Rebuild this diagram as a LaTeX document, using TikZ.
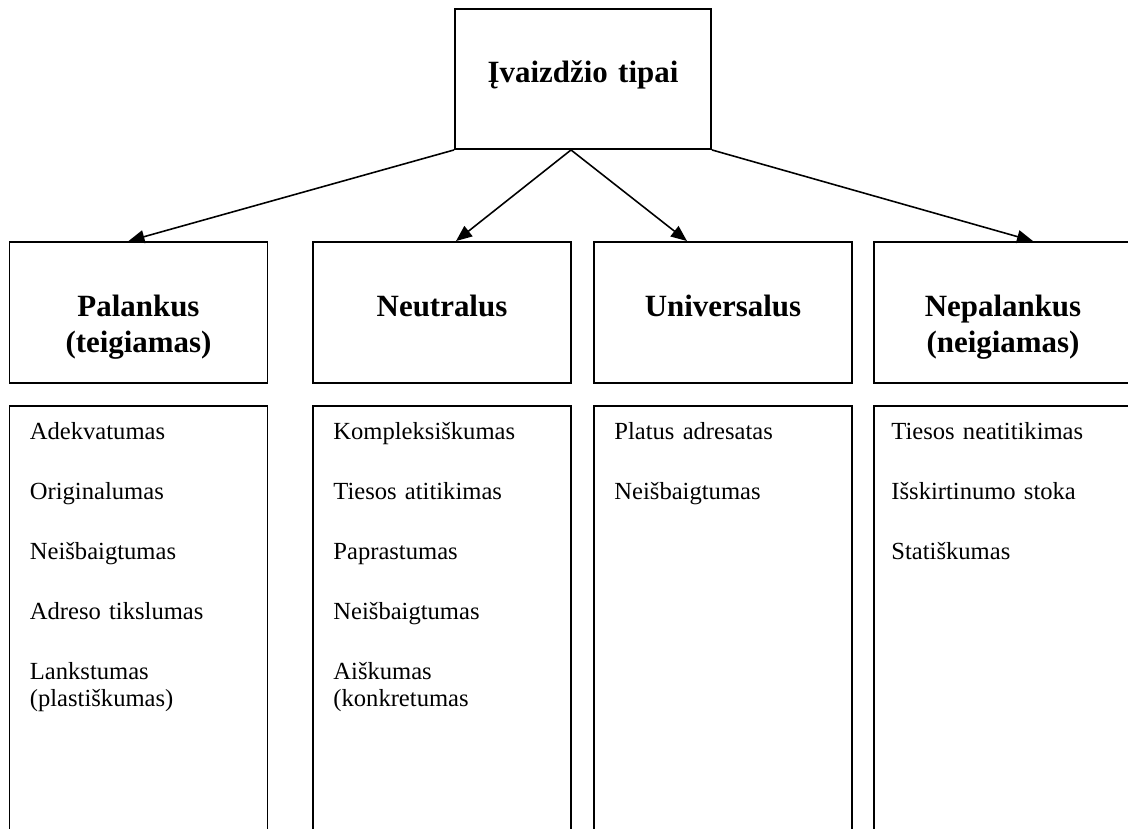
\documentclass[tikz,border=0pt]{standalone}
\usepackage{fontspec}
\setmainfont{Liberation Serif}
\usetikzlibrary{arrows.meta, positioning, calc}

\begin{document}
\begin{tikzpicture}[
  x=0.02cm, y=-0.02cm,
  topbox/.style={rectangle, draw=black, line width=1.1pt, inner sep=0pt,
    minimum width=5.12cm, minimum height=2.8cm},
  typebox/.style={rectangle, draw=black, line width=1.1pt, inner sep=0pt,
    minimum width=5.16cm, minimum height=2.82cm},
  listbox/.style={rectangle, draw=black, line width=1.1pt, inner sep=0pt,
    minimum width=5.16cm, minimum height=8.8cm},
  head/.style={font=\fontsize{17.6pt}{20.5pt}\selectfont\bfseries,
    align=center, text width=5cm, inner sep=0pt, anchor=base},
  items/.style={font=\fontsize{14pt}{15.4pt}\selectfont,
    align=left, text width=4.6cm, inner sep=0pt, anchor=base west},
  >={Triangle[length=3.2mm, width=2.6mm]},
  arr/.style={draw=black, line width=0.9pt, ->},
]

% Page
\useasboundingbox (0,0) rectangle (1128,828);
\clip (0,0) rectangle (1128,828);

% Top box
\node[topbox] (tipai) at (583,79) {};
\node[head] (tipaiT) at ($(tipai.north)+(0,74)$) {Įvaizdžio tipai};

% Type boxes
\node[typebox] (pal) at (138.5,312.5) {};
\node[typebox] (neu) at (442,312.5) {};
\node[typebox] (uni) at (723,312.5) {};
\node[typebox] (nepal) at (1003,312.5) {};

\node[head] (palT) at ($(pal.north)+(0,75)$) {Palankus\\(teigiamas)};
\node[head] (neuT) at ($(neu.north)+(0,75)$) {Neutralus};
\node[head] (uniT) at ($(uni.north)+(0,75)$) {Universalus};
\node[head] (nepalT) at ($(nepal.north)+(0,75)$) {Nepalankus\\(neigiamas)};

% Arrows
\coordinate (fork) at ($(tipai.south)+(-12,0)$);
\draw[arr] (tipai.south west) -- ($(pal.north)+(-10,0)$);
\draw[arr] (fork) -- ($(neu.north)+(14,0)$);
\draw[arr] (fork) -- ($(uni.north)+(-36,0)$);
\draw[arr] (tipai.south east) -- ($(nepal.north)+(30,0)$);

% Feature lists (open at the bottom)
\node[listbox] (palL) at (138.5,626) {};
\node[listbox] (neuL) at (442,626) {};
\node[listbox] (uniL) at (723,626) {};
\node[listbox] (nepalL) at (1003,626) {};

\node[items] (palI) at ($(palL.north west)+(21,34)$)
  {Adekvatumas\\[0.66cm] Originalumas\\[0.66cm] Neišbaigtumas\\[0.66cm]
   Adreso tikslumas\\[0.66cm] Lankstumas\\(plastiškumas)};
\node[items] (neuI) at ($(neuL.north west)+(21,34)$)
  {Kompleksiškumas\\[0.66cm] Tiesos atitikimas\\[0.66cm] Paprastumas\\[0.66cm]
   Neišbaigtumas\\[0.66cm] Aiškumas\\(konkretumas};
\node[items] (uniI) at ($(uniL.north west)+(21,34)$)
  {Platus adresatas\\[0.66cm] Neišbaigtumas};
\node[items] (nepalI) at ($(nepalL.north west)+(18,34)$)
  {Tiesos neatitikimas\\[0.66cm] Išskirtinumo stoka\\[0.66cm] Statiškumas};
\end{tikzpicture}
\end{document}
